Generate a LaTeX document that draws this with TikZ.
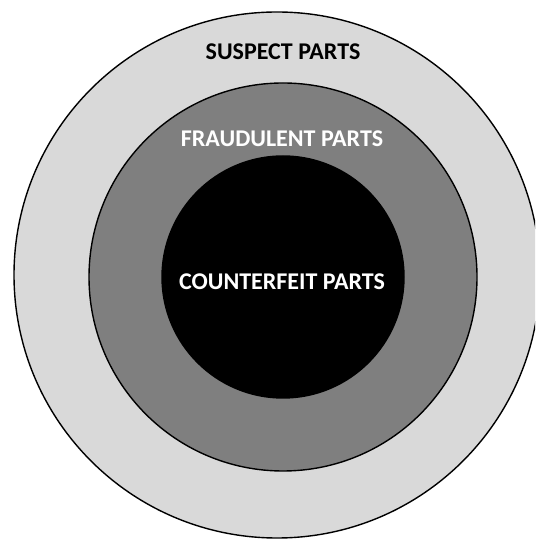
\documentclass[tikz,border=0pt]{standalone}
\usepackage{fontspec}
\setmainfont{Carlito}
\definecolor{ringlight}{HTML}{D9D9D9}
\definecolor{ringmid}{HTML}{7F7F7F}
\begin{document}
\begin{tikzpicture}[x=1pt,y=1pt,
  ring/.style={circle, draw=black, line width=1.4pt, inner sep=0pt},
  lbl/.style={font=\fontsize{24}{28}\selectfont\bfseries, inner sep=0pt}]
\useasboundingbox (0,0) rectangle (535,540);
\clip (0,0) rectangle (535,540);
\fill[white] (0,0) rectangle (535,540);
\node[ring, fill=ringlight, minimum size=526pt] (outer) at (277,265) {};
\node[ring, fill=ringmid, minimum size=388pt] (middle) at (283,263) {};
\node[ring, fill=black, minimum size=242pt] (inner) at (283,263) {};
\node[lbl, text=black] (suspect) at (283,488) {SUSPECT PARTS};
\node[lbl, text=white] (fraud) at (282,401) {FRAUDULENT PARTS};
\node[lbl, text=white] (counter) at (282,258) {COUNTERFEIT PARTS};
\end{tikzpicture}
\end{document}
